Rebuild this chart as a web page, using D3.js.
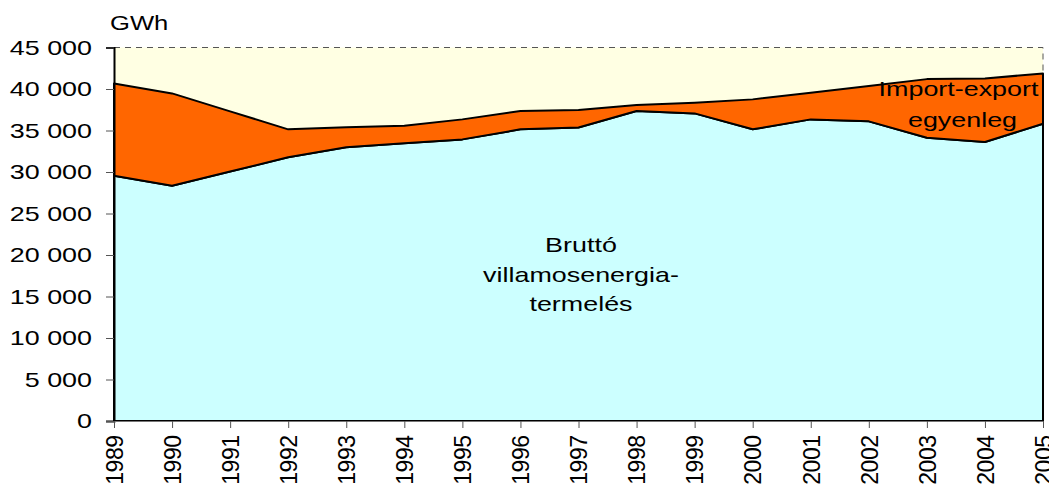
<!DOCTYPE html>
<html>
<head>
<meta charset="utf-8">
<script src="https://cdn.jsdelivr.net/npm/d3@7"></script>
<style>
  body { margin: 0; background: #fff; }
  svg { display: block; font-family: Arial, "Liberation Sans", sans-serif; }
</style>
</head>
<body>
<svg id="chart" width="1049" height="484"></svg>
<script>
// Évek és értékek (GWh)
const years = [1989, 1990, 1991, 1992, 1993, 1994, 1995, 1996, 1997,
               1998, 1999, 2000, 2001, 2002, 2003, 2004, 2005];
const termeles = [29550, 28350, 30050, 31770, 32970, 33450, 33930, 35140, 35360,
                  37340, 37060, 35140, 36340, 36100, 34130, 33610, 35810];
const egyenleg = [11120, 11120, 7250, 3370, 2410, 2120, 2410, 2200, 2100,
                  720, 1280, 3610, 3210, 4250, 7060, 7660, 6060];
const yTicks = [0, 5000, 10000, 15000, 20000, 25000, 30000, 35000, 40000, 45000];

const svg = d3.select('#chart');
const margin = { left: 114, right: 6, top: 47.5, bottom: 63 };
const width = 1049, height = 484;
const stretch = 1.28; // az eredeti kép szövegei vízszintesen nyújtottak

const x = d3.scaleLinear()
    .domain([years[0], years[years.length - 1]])
    .range([margin.left, width - margin.right]);
const y = d3.scaleLinear()
    .domain([0, 45000])
    .range([height - margin.bottom, margin.top]);

const rows = years.map((yr, i) => ({ year: yr, termeles: termeles[i], egyenleg: egyenleg[i] }));
const stack = d3.stack().keys(['termeles', 'egyenleg'])(rows);

// háttér
svg.append('rect')
    .attr('x', x.range()[0]).attr('y', y(45000))
    .attr('width', x.range()[1] - x.range()[0])
    .attr('height', y(0) - y(45000))
    .attr('fill', '#FFFFE3');

const area = d3.area()
    .x((d, i) => x(years[i]))
    .y0(d => y(d[0]))
    .y1(d => y(d[1]));

const colors = ['#CCFFFF', '#FF6600'];
svg.selectAll('.layer')
    .data(stack)
    .enter()
    .append('path')
    .attr('class', 'layer')
    .attr('d', area)
    .attr('fill', (d, i) => colors[i])
    .attr('stroke', '#000')
    .attr('stroke-width', 2)
    .attr('stroke-linejoin', 'round');

// szaggatott keret fent és jobbra
svg.append('path')
    .attr('d', `M${x.range()[0]},${y(45000)}H${x.range()[1]}V${y(egyenleg[16] + termeles[16])}`)
    .attr('fill', 'none')
    .attr('stroke', '#555')
    .attr('stroke-width', 1)
    .attr('stroke-dasharray', '6,5');

// y tengely
const yAxis = svg.append('g')
    .attr('transform', `translate(${margin.left},0)`)
    .call(d3.axisLeft(y).tickValues(yTicks).tickSize(8).tickPadding(14)
        .tickFormat(d => d3.format(',')(d).replace(/,/g, ' ')));
yAxis.select('.domain').attr('stroke', '#000').attr('stroke-width', 2);
yAxis.selectAll('.tick line').attr('stroke', '#555');
yAxis.selectAll('text').attr('font-size', 21).attr('fill', '#000').classed('wide', true);

// x tengely
const xAxis = svg.append('g')
    .attr('transform', `translate(0,${y(0)})`)
    .call(d3.axisBottom(x).tickValues(years).tickSize(7).tickFormat(d3.format('d')));
xAxis.select('.domain').attr('stroke', '#777');
xAxis.selectAll('.tick line').attr('stroke', '#555');
xAxis.selectAll('text')
    .attr('font-size', 23)
    .attr('letter-spacing', -0.5)
    .attr('fill', '#000')
    .attr('transform', 'rotate(-90)')
    .attr('text-anchor', 'end')
    .attr('x', -14.5)
    .attr('y', 0)
    .attr('dy', '0.36em');

// feliratok
svg.append('text')
    .attr('class', 'wide')
    .attr('x', 110).attr('y', 30)
    .attr('font-size', 20)
    .text('GWh');

const label1 = ['Bruttó', 'villamosenergia-', 'termelés'];
svg.append('g').selectAll('text')
    .data(label1)
    .enter()
    .append('text')
    .attr('class', 'wide')
    .attr('x', 581)
    .attr('y', (d, i) => 252 + i * 29.5)
    .attr('text-anchor', 'middle')
    .attr('font-size', 21)
    .text(d => d);

const label2 = ['Import-export', 'egyenleg'];
svg.append('g').selectAll('text')
    .data(label2)
    .enter()
    .append('text')
    .attr('class', 'wide')
    .attr('x', (d, i) => i === 0 ? 958.5 : 962.5)
    .attr('y', (d, i) => 96 + i * 30.5)
    .attr('text-anchor', 'middle')
    .attr('font-size', 21)
    .text(d => d);

// vízszintes nyújtás, mint az eredeti képen
svg.selectAll('text.wide').each(function () {
    const len = this.getComputedTextLength();
    d3.select(this)
        .attr('textLength', len * stretch)
        .attr('lengthAdjust', 'spacingAndGlyphs');
});
</script>
</body>
</html>
